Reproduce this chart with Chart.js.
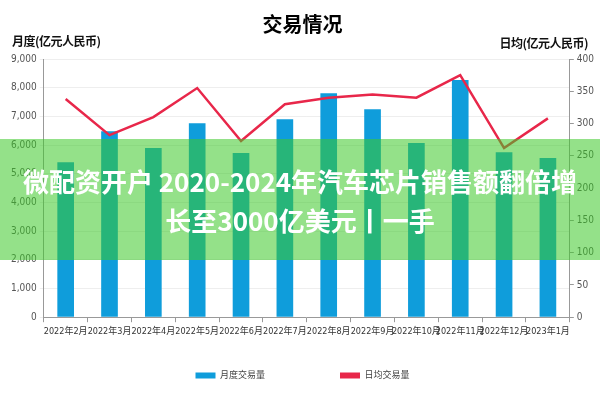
<!DOCTYPE html>
<html>
<head>
<meta charset="utf-8">
<script src="https://cdn.jsdelivr.net/npm/chart.js@4/dist/chart.umd.min.js"></script>
<style>
  html, body { margin: 0; padding: 0; background: #fff; }
  #wrap { position: relative; width: 600px; height: 400px; font-family: "Noto Sans CJK SC", sans-serif; }
  .axisTitle { position: absolute; top: 32px; font-size: 12px; font-weight: bold; color: #111; letter-spacing: -0.5px; }
  #banner {
    position: absolute; left: 0; top: 139px; width: 600px; height: 121px;
    background: rgba(60, 200, 40, 0.55); color: #fff; font-weight: bold;
    font-size: 26px; line-height: 39px; text-align: center; padding-top: 22px; box-sizing: border-box;
  }
</style>
</head>
<body>
<div id="wrap">
  <canvas id="tradeChart" width="600" height="400"></canvas>
  <div class="axisTitle" style="left:12px;">月度(亿元人民币)</div>
  <div class="axisTitle" style="right:12px; top:34px;">日均(亿元人民币)</div>
  <div id="banner">微配资开户 2020-2024年汽车芯片销售额翻倍增<br>长至3000亿美元丨一手</div>
</div>
<script>
var months = ['2022年2月', '2022年3月', '2022年4月', '2022年5月', '2022年6月', '2022年7月',
              '2022年8月', '2022年9月', '2022年10月', '2022年11月', '2022年12月', '2023年1月'];
var monthlyVolume = [5400, 6480, 5900, 6760, 5720, 6900, 7810, 7250, 6070, 8270, 5750, 5550];
var dailyVolume = [338, 282, 310, 355, 273, 330, 340, 345, 340, 375, 262, 308];

var ctx = document.getElementById('tradeChart').getContext('2d');
var narrow = '"Liberation Sans Narrow", "DejaVu Sans Condensed", "Noto Sans CJK SC", sans-serif';
var tickFont = { family: narrow, size: 10 };
var xFont = { family: narrow, size: 9 };

var chart = new Chart(ctx, {
    data: {
        labels: months,
        datasets: [{
            type: 'line',
            label: '日均交易量',
            data: dailyVolume,
            yAxisID: 'yRight',
            borderColor: '#e8274a',
            backgroundColor: '#e8274a',
            borderWidth: 2.5,
            pointRadius: 0,
            tension: 0,
            order: 1
        }, {
            type: 'bar',
            label: '月度交易量',
            data: monthlyVolume,
            yAxisID: 'yLeft',
            backgroundColor: '#0f9ddb',
            categoryPercentage: 1,
            barPercentage: 0.38,
            order: 2
        }]
    },
    options: {
        responsive: false,
        animation: false,
        layout: { padding: { left: 8, right: 3, top: 0, bottom: 10 } },
        plugins: {
            title: {
                display: true,
                text: '交易情况',
                color: '#000',
                font: { family: '"Noto Sans CJK SC", sans-serif', size: 20, weight: 'bold' },
                padding: { top: 12, bottom: 23 }
            },
            legend: {
                position: 'bottom',
                reverse: true,
                labels: {
                    color: '#444',
                    font: { family: narrow, size: 9 },
                    boxWidth: 20,
                    boxHeight: 6,
                    padding: 30,
                    generateLabels: function(chart) {
                        var items = Chart.defaults.plugins.legend.labels.generateLabels(chart);
                        items.forEach(function(it) {
                            it.lineWidth = 0;
                            if (it.datasetIndex === 0) {
                                it.fillStyle = '#e8274a';
                            } else {
                                it.text = it.text + '\u3000\u3000\u3000\u3000\u3000';
                            }
                        });
                        return items;
                    }
                }
            },
            tooltip: { enabled: false }
        },
        scales: {
            x: {
                grid: { display: true, drawOnChartArea: false, offset: true, tickLength: 5, color: '#999' },
                border: { color: '#999' },
                ticks: { color: '#333', font: xFont, maxRotation: 0, autoSkip: false, padding: 4 }
            },
            yLeft: {
                position: 'left',
                min: 0,
                max: 9000,
                ticks: {
                    stepSize: 1000,
                    color: '#555',
                    font: tickFont,
                    callback: function(v) { return v.toLocaleString('en-US'); }
                },
                grid: { color: '#eeeeee', tickLength: 4 },
                border: { color: '#999' }
            },
            yRight: {
                position: 'right',
                min: 0,
                max: 400,
                ticks: { stepSize: 50, color: '#555', font: tickFont },
                grid: { drawOnChartArea: false, tickLength: 4, color: '#999' },
                border: { color: '#999' }
            }
        }
    }
});
</script>
</body>
</html>
